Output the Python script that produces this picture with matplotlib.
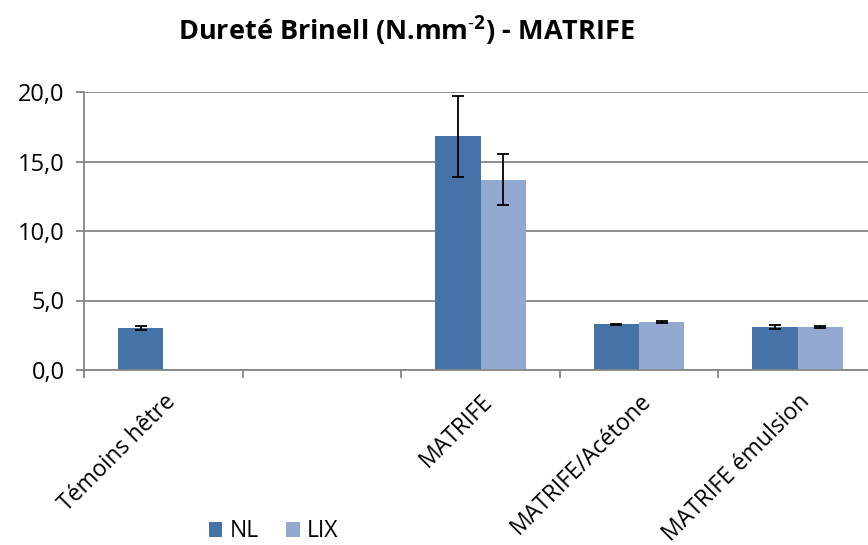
import numpy as np
import matplotlib
matplotlib.use("Agg")
import matplotlib.pyplot as plt
from matplotlib.ticker import FuncFormatter

plt.rcParams['font.family'] = ['Open Sans', 'DejaVu Sans']
plt.rcParams['mathtext.fontset'] = 'custom'
plt.rcParams['mathtext.rm'] = 'Open Sans'
plt.rcParams['mathtext.bf'] = 'Open Sans:bold'

categories = ["Témoins hêtre", "", "MATRIFE", "MATRIFE/Acétone", "MATRIFE émulsion"]
series = ["NL", "LIX"]
nl_values = [3.0, np.nan, 16.8, 3.3, 3.1]
nl_errors = [0.15, np.nan, 2.9, 0.04, 0.12]
lix_values = [np.nan, np.nan, 13.7, 3.45, 3.1]
lix_errors = [np.nan, np.nan, 1.85, 0.08, 0.1]

colors = ["#4572A7", "#93A9CF"]
grid_col = "#868686"

fig = plt.figure(figsize=(8.68, 5.45), dpi=100)
ax = fig.add_axes([84 / 868, 1 - 370 / 545, 793 / 868, 278 / 545])

x = np.arange(len(categories))
w = 1 / 3.5
err_kw = dict(ecolor="black", elinewidth=1.3, capsize=4.5, capthick=1.3)
ax.bar(x - w / 2, nl_values, w, yerr=nl_errors, color=colors[0], label=series[0],
       error_kw=err_kw, zorder=2)
ax.bar(x + w / 2, lix_values, w, yerr=lix_errors, color=colors[1], label=series[1],
       error_kw=err_kw, zorder=2)

ax.set_xlim(-0.5, len(categories) - 0.5)
ax.set_ylim(0, 20)
ax.set_yticks(np.arange(0, 20.1, 5))
ax.yaxis.set_major_formatter(FuncFormatter(lambda v, p: f"{v:.1f}".replace(".", ",")))
ax.yaxis.grid(True, color=grid_col, linewidth=1.3, zorder=0)
ax.set_axisbelow(True)

ax.set_xticks(x)
ax.set_xticklabels(categories, rotation=45, ha="right", rotation_mode="anchor",
                   fontsize=16.5)
ax.set_xticks(np.arange(-0.5, len(categories)), minor=True)
ax.tick_params(axis="x", which="major", length=0, pad=14)
ax.tick_params(axis="x", which="minor", length=6, width=1.3, color=grid_col)
ax.tick_params(axis="y", length=6, width=1.3, color=grid_col, labelsize=17, pad=8)

for s in ["top", "right"]:
    ax.spines[s].set_visible(False)
for s in ["left", "bottom"]:
    ax.spines[s].set_color(grid_col)
    ax.spines[s].set_linewidth(1.3)

fig.suptitle(r"Dureté Brinell (N.mm$^{\mathbf{\text{-}2}}$) - MATRIFE", x=406 / 868, y=0.975,
             fontsize=19.5, fontweight="bold", va="top")

fig.legend(loc="lower left", bbox_to_anchor=(188 / 868, -0.035), ncol=2, frameon=False,
           fontsize=16.5, handlelength=0.6, handleheight=0.6, handletextpad=0.3,
           columnspacing=1.2)

fig.savefig("out.png", dpi=100)
